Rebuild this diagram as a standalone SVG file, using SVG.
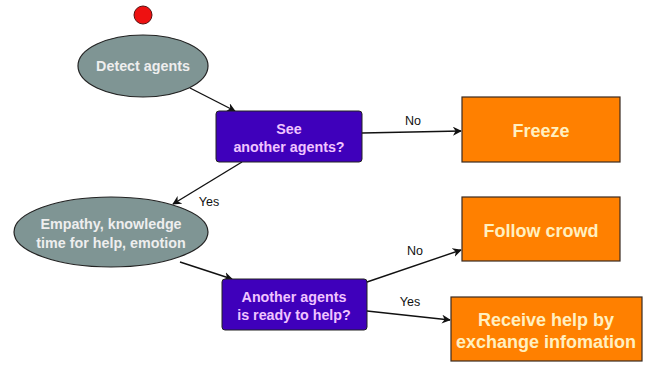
<svg xmlns="http://www.w3.org/2000/svg" width="662" height="365" viewBox="0 0 662 365">
<defs>
<style>
.ell{fill:#7f9594;stroke:#222;stroke-width:1.2}
.dec{fill:#3f00bb;stroke:#222;stroke-width:1}
.act{fill:#ff8000;stroke:#3a2a20;stroke-width:1.2}
.t{font-family:"Liberation Sans",Arial,sans-serif;font-weight:bold;font-size:14.3px;text-anchor:middle}
.big{font-size:18px}
.te{fill:#eeeeee}
.td{fill:#f0c4ff}
.ta{fill:#fff0c0}
.lbl{font-family:"Liberation Sans",Arial,sans-serif;font-size:12.5px;fill:#111}
.c{stroke:#111;stroke-width:1.4;fill:none;marker-end:url(#ah)}
</style>
<marker id="ah" viewBox="0 0 10 10" refX="9" refY="5" markerWidth="9" markerHeight="9" markerUnits="userSpaceOnUse" orient="auto">
<path d="M0,0 L10,5 L0,10 L3,5 z" fill="#111"/>
</marker>
</defs>
<rect width="662" height="365" fill="#fff"/>
<g id="connectors">
<path class="c" d="M190,88 L235,111"/>
<path class="c" d="M362,133 L461,131"/>
<path class="c" d="M242,162 L173,204"/>
<path class="c" d="M180,262 L232,279"/>
<path class="c" d="M367,282 L461,250"/>
<path class="c" d="M367,311 L450,320"/>
<text class="lbl" x="413" y="125" text-anchor="middle">No</text>
<text class="lbl" x="209" y="206" text-anchor="middle">Yes</text>
<text class="lbl" x="415" y="255" text-anchor="middle">No</text>
<text class="lbl" x="410" y="306" text-anchor="middle">Yes</text>
</g>
<g id="start">
<circle cx="143" cy="15" r="9" fill="#ee1111" stroke="#551111" stroke-width="1"/>
</g>
<g id="detect">
<ellipse class="ell" cx="143" cy="66" rx="65" ry="31"/>
<text class="t te" x="143" y="71">Detect agents</text>
</g>
<g id="see">
<rect class="dec" x="216" y="111" width="146" height="51" rx="3"/>
<text class="t td" x="289" y="134">See</text>
<text class="t td" x="289" y="152">another agents?</text>
</g>
<g id="freeze">
<rect class="act" x="462" y="97" width="158" height="65"/>
<text class="t big ta" x="541" y="137">Freeze</text>
</g>
<g id="empathy">
<ellipse class="ell" cx="111" cy="232" rx="97" ry="35"/>
<text class="t te" x="111" y="229">Empathy, knowledge</text>
<text class="t te" x="111" y="248">time for help, emotion</text>
</g>
<g id="ready">
<rect class="dec" x="222" y="279" width="145" height="51" rx="3"/>
<text class="t td" x="294" y="302">Another agents</text>
<text class="t td" x="294" y="320">is ready to help?</text>
</g>
<g id="follow">
<rect class="act" x="462" y="197" width="158" height="64"/>
<text class="t big ta" x="541" y="237">Follow crowd</text>
</g>
<g id="receive">
<rect class="act" x="451" y="297" width="191" height="64"/>
<text class="t big ta" x="546" y="326">Receive help by</text>
<text class="t big ta" x="546" y="348">exchange infomation</text>
</g>
</svg>
